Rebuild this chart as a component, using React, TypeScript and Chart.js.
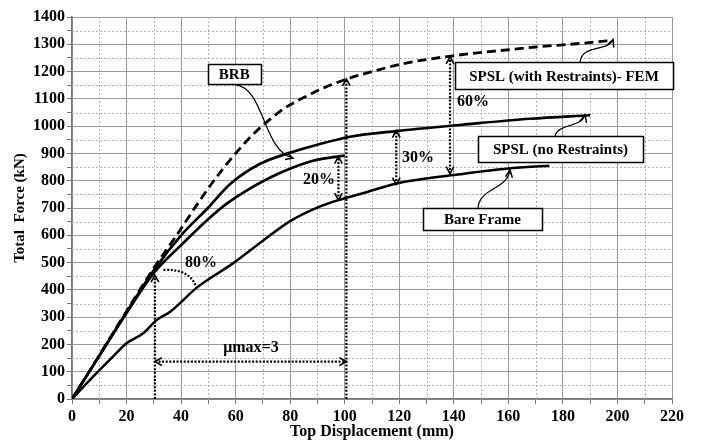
import React, { useEffect, useRef } from 'react';
import { Chart, registerables } from 'chart.js';

Chart.register(...registerables);

// ---------- data ----------
const femX = [0, 10, 20, 30, 38, 45, 52, 60, 66, 72, 78, 85, 92, 100, 110, 122, 139, 157, 170, 185, 198];
const femY = [0, 160, 322, 480, 595, 700, 800, 900, 966, 1020, 1066, 1105, 1139, 1170, 1200, 1230, 1257, 1277, 1290, 1302, 1314];

const spslX = [0, 10, 20, 30, 40, 50, 58, 69, 80, 90, 102, 119, 143, 168, 190];
const spslY = [0, 158, 318, 472, 600, 702, 788, 862, 903, 932, 961, 982, 1005, 1027, 1040];

const brbX = [0, 10, 20, 30, 40, 50, 57, 64, 76, 88, 94, 100];
const brbY = [0, 158, 315, 462, 564, 660, 718, 764, 827, 872, 884, 892];

const bareX = [0, 6.6, 15, 20, 26, 31, 36, 46, 59, 70, 80, 91, 98, 106, 119, 140, 160, 175];
const bareY = [0, 70, 155, 204, 240, 289, 320, 410, 497, 580, 652, 706, 730, 752, 790, 821, 845, 855];

const X_MIN = 0, X_MAX = 220, X_MINOR = 10, X_MAJOR = 20;
const Y_MIN = 0, Y_MAX = 1400, Y_MINOR = 50, Y_MAJOR = 100;

// ---------- annotations (data coordinates) ----------
const dottedArrows = [
  { x1: 30.4, y1: 0, x2: 30.4, y2: 454, start: false, end: true },
  { x1: 100.6, y1: 0, x2: 100.6, y2: 1173, start: false, end: true },
  { x1: 30.4, y1: 137, x2: 100.6, y2: 137, start: true, end: true },
  { x1: 97.7, y1: 729, x2: 97.7, y2: 888, start: true, end: true },
  { x1: 118.9, y1: 786, x2: 118.9, y2: 984, start: true, end: true },
  { x1: 138.6, y1: 826, x2: 138.6, y2: 1254, start: true, end: true },
];

const noteLabels = [
  { text: '80%', x: 47.3, y: 498 },
  { text: 'μmax=3', x: 65.6, y: 187 },
  { text: '20%', x: 90.6, y: 802 },
  { text: '30%', x: 126.9, y: 883 },
  { text: '60%', x: 147, y: 1088 },
];

const boxLabels = [
  { text: 'BRB', x: 59.5, y: 1191, w: 53, h: 20 },
  { text: 'SPSL (with Restraints)- FEM', x: 180.4, y: 1185, w: 218, h: 27 },
  { text: 'SPSL (no Restraints)', x: 179.1, y: 916, w: 165, h: 26 },
  { text: 'Bare Frame', x: 150.5, y: 660, w: 119, h: 22 },
];

const leaders = [
  { x0: 59.8, y0: 1152, c1x: 70.8, c1y: 1139.6, c2x: 69.7, c2y: 912.4, x1: 81.0, y1: 883.1 },
  { x0: 186.3, y0: 1234.9, c1x: 187.0, c1y: 1300.8, c2x: 196.6, c2y: 1271.5, x1: 198.4, y1: 1317.3 },
  { x0: 177.1, y0: 963.7, c1x: 177.9, c1y: 1007.7, c2x: 187.0, c2y: 996.7, x1: 188.1, y1: 1040.7 },
  { x0: 148.9, y0: 699.9, c1x: 149.2, c1y: 773.2, c2x: 159.5, c2y: 765.8, x1: 160.6, y1: 839.1 },
];

const arc80 = { x0: 33.5, y0: 473, cx: 43.5, cy: 478, x1: 45.7, y1: 406 };

const SERIF = "'Liberation Serif', 'Times New Roman', serif";

function arrowHead(ctx: CanvasRenderingContext2D, tx: number, ty: number, ang: number, len = 8, spread = 0.5) {
  ctx.beginPath();
  ctx.moveTo(tx - len * Math.cos(ang - spread), ty - len * Math.sin(ang - spread));
  ctx.lineTo(tx, ty);
  ctx.lineTo(tx - len * Math.cos(ang + spread), ty - len * Math.sin(ang + spread));
  ctx.stroke();
}

const annotPlugin = {
  id: 'annot',
  beforeDatasetsDraw(chart: any) {
    const { ctx, chartArea: a, scales } = chart;
    const xs = scales.x, ys = scales.y;
    ctx.save();
    ctx.strokeStyle = '#b0b0b0';
    ctx.lineWidth = 1;
    ctx.setLineDash([2, 2]);
    for (let v = X_MIN + X_MINOR; v < X_MAX; v += X_MAJOR) {
      const px = Math.round(xs.getPixelForValue(v)) + 0.5;
      ctx.beginPath(); ctx.moveTo(px, a.top); ctx.lineTo(px, a.bottom); ctx.stroke();
    }
    for (let v = Y_MIN + Y_MINOR; v < Y_MAX; v += Y_MAJOR) {
      const py = Math.round(ys.getPixelForValue(v)) + 0.5;
      ctx.beginPath(); ctx.moveTo(a.left, py); ctx.lineTo(a.right, py); ctx.stroke();
    }
    ctx.restore();
  },
  afterDatasetsDraw(chart: any) {
    const { ctx, scales } = chart;
    const X = (v: number) => scales.x.getPixelForValue(v);
    const Y = (v: number) => scales.y.getPixelForValue(v);
    ctx.save();
    ctx.strokeStyle = '#000';
    ctx.fillStyle = '#000';

    // dotted arrows
    dottedArrows.forEach((d) => {
      const ax = X(d.x1), ay = Y(d.y1), bx = X(d.x2), by = Y(d.y2);
      ctx.setLineDash([2, 1.6]);
      ctx.lineWidth = 2.2;
      ctx.beginPath(); ctx.moveTo(ax, ay); ctx.lineTo(bx, by); ctx.stroke();
      ctx.setLineDash([]);
      ctx.lineWidth = 1.6;
      const ang = Math.atan2(by - ay, bx - ax);
      if (d.end) arrowHead(ctx, bx, by, ang);
      if (d.start) arrowHead(ctx, ax, ay, ang + Math.PI);
    });

    // 80% arc
    ctx.setLineDash([2, 1.6]);
    ctx.lineWidth = 2.2;
    ctx.beginPath();
    ctx.moveTo(X(arc80.x0), Y(arc80.y0));
    ctx.quadraticCurveTo(X(arc80.cx), Y(arc80.cy), X(arc80.x1), Y(arc80.y1));
    ctx.stroke();
    ctx.setLineDash([]);

    // leaders
    leaders.forEach((l) => {
      ctx.lineWidth = 1.2;
      ctx.beginPath();
      ctx.moveTo(X(l.x0), Y(l.y0));
      ctx.bezierCurveTo(X(l.c1x), Y(l.c1y), X(l.c2x), Y(l.c2y), X(l.x1), Y(l.y1));
      ctx.stroke();
      const ang = Math.atan2(Y(l.y1) - Y(l.c2y), X(l.x1) - X(l.c2x));
      ctx.lineWidth = 1.5;
      arrowHead(ctx, X(l.x1), Y(l.y1), ang, 8, 0.45);
    });

    // note labels
    ctx.font = `bold 16px ${SERIF}`;
    ctx.textAlign = 'center';
    ctx.textBaseline = 'middle';
    noteLabels.forEach((n) => ctx.fillText(n.text, X(n.x), Y(n.y)));

    // boxed labels
    boxLabels.forEach((b) => {
      const cx = X(b.x), cy = Y(b.y);
      const l = Math.round(cx - b.w / 2) + 0.5, t = Math.round(cy - b.h / 2) + 0.5;
      ctx.fillStyle = '#fff';
      ctx.fillRect(l, t, b.w, b.h);
      ctx.lineWidth = 1.5;
      ctx.strokeStyle = '#000';
      ctx.strokeRect(l, t, b.w, b.h);
      ctx.fillStyle = '#000';
      ctx.font = `bold 15px ${SERIF}`;
      ctx.fillText(b.text, cx, cy + 1);
    });
    ctx.restore();
  },
};

const toPts = (xs: number[], ys: number[]) => xs.map((v, i) => ({ x: v, y: ys[i] }));

export default function App() {
  const ref = useRef<HTMLCanvasElement | null>(null);

  useEffect(() => {
    if (!ref.current) return;
    const base = {
      borderColor: '#000',
      pointRadius: 0,
      fill: false,
      cubicInterpolationMode: 'monotone' as const,
    };
    const tickFont = { family: SERIF, size: 16, weight: 'bold' as const };
    const chart = new Chart(ref.current, {
      type: 'line',
      data: {
        datasets: [
          { ...base, label: 'SPSL (with Restraints)- FEM', data: toPts(femX, femY), borderWidth: 2.8, borderDash: [9, 5] },
          { ...base, label: 'SPSL (no Restraints)', data: toPts(spslX, spslY), borderWidth: 2.7 },
          { ...base, label: 'BRB', data: toPts(brbX, brbY), borderWidth: 2.7 },
          { ...base, label: 'Bare Frame', data: toPts(bareX, bareY), borderWidth: 2.5 },
        ],
      },
      options: {
        animation: false,
        responsive: false,
        layout: { padding: { top: 17, right: 30, left: 0, bottom: 0 } },
        plugins: { legend: { display: false }, tooltip: { enabled: false } },
        scales: {
          x: {
            type: 'linear',
            min: X_MIN,
            max: X_MAX,
            afterFit: (s: any) => { s.height = 41; },
            ticks: {
              stepSize: X_MINOR,
              autoSkip: false,
              maxRotation: 0,
              padding: 3,
              color: '#000',
              font: tickFont,
              callback: (v: any) => (Number(v) % X_MAJOR === 0 ? String(v) : ''),
            },
            grid: {
              color: (c: any) => (c.tick && c.tick.value % X_MAJOR === 0 ? '#9a9a9a' : 'rgba(0,0,0,0)'),
              tickColor: '#777',
              tickLength: 5,
              lineWidth: 1,
            },
            border: { color: '#777', width: 1.5 },
            title: {
              display: true,
              text: 'Top Displacement (mm)',
              color: '#000',
              font: { family: SERIF, size: 16, weight: 'bold', lineHeight: 1 },
              padding: { top: 0, bottom: 0 },
            },
          },
          y: {
            type: 'linear',
            min: Y_MIN,
            max: Y_MAX,
            afterFit: (s: any) => { s.width = 72; },
            ticks: {
              stepSize: Y_MINOR,
              autoSkip: false,
              padding: 2,
              color: '#000',
              font: tickFont,
              callback: (v: any) => (Number(v) % Y_MAJOR === 0 ? String(v) : ''),
            },
            grid: {
              color: (c: any) => (c.tick && c.tick.value % Y_MAJOR === 0 ? '#9a9a9a' : 'rgba(0,0,0,0)'),
              tickColor: '#777',
              tickLength: 5,
              lineWidth: 1,
            },
            border: { color: '#777', width: 1.5 },
            title: {
              display: true,
              text: 'Total  Force (kN)',
              color: '#000',
              font: { family: SERIF, size: 15, weight: 'bold', lineHeight: 1 },
              padding: { top: 13, bottom: 0 },
            },
          },
        },
      },
      plugins: [annotPlugin],
    });
    return () => chart.destroy();
  }, []);

  return (
    <div style={{ position: 'absolute', left: 0, top: 0, width: 702, height: 440, background: '#fff' }}>
      <canvas ref={ref} width={702} height={440} style={{ display: 'block', width: 702, height: 440 }} />
    </div>
  );
}
